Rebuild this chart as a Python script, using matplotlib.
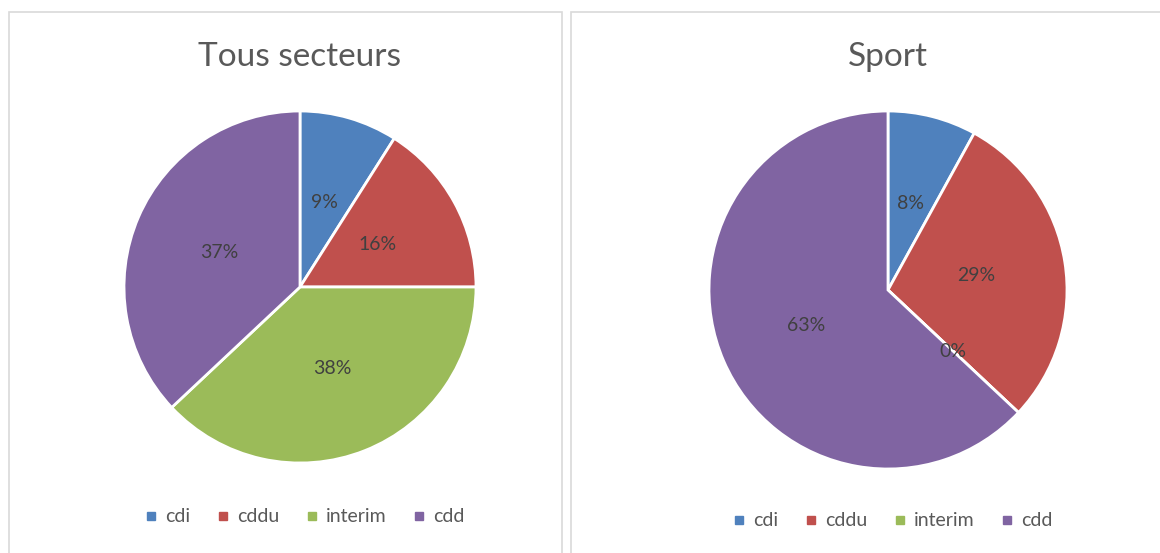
import matplotlib.pyplot as plt
from matplotlib.lines import Line2D
from matplotlib.patches import Rectangle

categories = ['cdi', 'cddu', 'interim', 'cdd']
tous_secteurs = [9, 16, 38, 37]
sport = [8, 29, 0, 63]
titles = ['Tous secteurs', 'Sport']
colors = ['#4F81BD', '#C0504D', '#9BBB59', '#8064A2']

plt.rcParams['font.family'] = ['Lato', 'DejaVu Sans']
text_color = '#595959'

W, H = 1160, 553
fig = plt.figure(figsize=(W / 100, H / 100), dpi=100)

# panel frames (pixel coords, from top-left)
for x0, x1 in [(9, 562), (571, 1165)]:
    fig.patches.append(Rectangle((x0 / W, -0.05), (x1 - x0) / W, 1 - 12 / H + 0.05,
                                 transform=fig.transFigure, fill=False,
                                 edgecolor='#D9D9D9', linewidth=1.2))

# (center x, center y, radius, title y, legend y)
layouts = [(300, 287, 176, 57, 517), (888, 290, 179, 57, 521)]

for values, title, (cx, cy, r, ty, ly) in zip([tous_secteurs, sport], titles, layouts):
    ax = fig.add_axes([(cx - r) / W, (H - cy - r) / H, 2 * r / W, 2 * r / H])
    wedges, texts, autotexts = ax.pie(values, colors=colors, startangle=90, counterclock=False,
                                      autopct='%1.0f%%', pctdistance=0.5,
                                      wedgeprops=dict(edgecolor='white', linewidth=2),
                                      textprops=dict(color='#404040', fontsize=14))
    ax.set_xlim(-1, 1)
    ax.set_ylim(-1, 1)
    ax.axis('off')

    fig.text(cx / W, 1 - ty / H, title, ha='center', va='center', fontsize=24, color=text_color)

    handles = [Line2D([], [], marker='s', linestyle='none', markersize=6,
                      markerfacecolor=c, markeredgecolor=c) for c in colors]
    fig.legend(handles, categories, loc='center', bbox_to_anchor=((cx + 5) / W, 1 - ly / H),
               ncol=4, frameon=False, fontsize=14, labelcolor=text_color,
               handlelength=0.6, handletextpad=0.4, columnspacing=1.4)

fig.savefig('out.png', dpi=100)
